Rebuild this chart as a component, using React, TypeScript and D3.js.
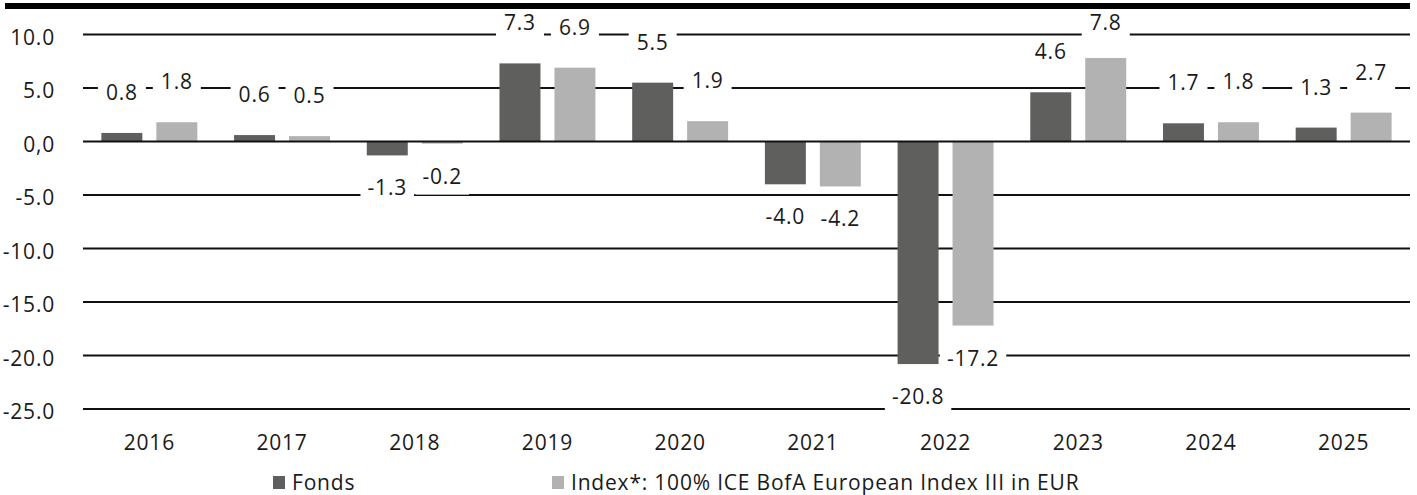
import * as d3 from "d3";

const YEARS = ["2016", "2017", "2018", "2019", "2020", "2021", "2022", "2023", "2024", "2025"];
const FONDS = [0.8, 0.6, -1.3, 7.3, 5.5, -4.0, -20.8, 4.6, 1.7, 1.3];
const INDEX = [1.8, 0.5, -0.2, 6.9, 1.9, -4.2, -17.2, 7.8, 1.8, 2.7];
const SERIES = ["Fonds", "Index*: 100% ICE BofA European Index III in EUR"];
const Y_TICKS = [10, 5, 0, -5, -10, -15, -20, -25];

const WIDTH = 1417;
const HEIGHT = 495;
const COLORS = ["#5f5f5e", "#b2b2b2"];
const FONT = "'Open Sans', sans-serif";
const FS = 21;
const LS = 0.8;

// rough glyph advances for Open Sans, used to size the white label boxes
function textWidth(s: string): number {
    let w = 0;
    for (const c of s) w += (c === "." ? 0.27 : c === "-" ? 0.32 : 0.572) * FS + LS;
    return w;
}

// hyphen minus like the original, not the unicode minus d3 emits
const fmt = (v: number) => d3.format(".1f")(v).replace("\u2212", "-");
const fmtTick = (v: number) => (v === 0 ? "0,0" : fmt(v));

export default function App() {
    const x = d3.scaleBand<string>().domain(YEARS).range([83, 1410]).paddingInner(0.277).paddingOuter(0.1385);
    const xs = d3.scaleBand<number>().domain([0, 1]).range([0, x.bandwidth()]).paddingInner(0.2545);
    const y = d3.scaleLinear().domain([-25, 10]).range([409, 34.5]);

    const bars = YEARS.flatMap((yr, i) =>
        [FONDS[i], INDEX[i]].map((v, s) => ({ yr, s, v, x0: (x(yr) ?? 0) + (xs(s) ?? 0) }))
    );

    return (
        <svg
            width={WIDTH}
            height={HEIGHT}
            style={{ position: "absolute", left: 0, top: 0 }}
            fontFamily={FONT}
            letterSpacing={LS}
        >
            <rect width={WIDTH} height={HEIGHT} fill="#fff" />

            {/* gridlines, zero drawn later on top of the bars */}
            {Y_TICKS.filter((t) => t !== 0).map((t) => (
                <line key={t} x1={83} x2={1410} y1={y(t)} y2={y(t)} stroke="#111" strokeWidth={2} />
            ))}
            {Y_TICKS.map((t) => (
                <text key={t} x={55} y={y(t) + 10} textAnchor="end" fontSize={FS} fill="#1a1a1a">
                    {fmtTick(t)}
                </text>
            ))}

            {bars.map((b) => (
                <rect
                    key={b.yr + b.s}
                    x={b.x0}
                    width={xs.bandwidth()}
                    y={Math.min(y(b.v), y(0))}
                    height={Math.abs(y(b.v) - y(0))}
                    fill={COLORS[b.s]}
                />
            ))}
            <line x1={83} x2={1410} y1={y(0)} y2={y(0)} stroke="#111" strokeWidth={2} />

            {bars.map((b) => {
                const label = fmt(b.v);
                const cx = b.x0 + xs.bandwidth() / 2;
                const cy = b.v >= 0 ? Math.max(y(b.v) - 40, 23) : y(b.v) + 33;
                const bw = Math.max(textWidth(label) + 14, 48);
                return (
                    <g key={"l" + b.yr + b.s}>
                        <rect x={cx - bw / 2} y={cy - 14} width={bw} height={32} fill="#fff" />
                        <text x={cx} y={cy + 7} textAnchor="middle" fontSize={FS} fill="#1a1a1a">
                            {label}
                        </text>
                    </g>
                );
            })}

            <rect x={5} y={3} width={1405} height={6} fill="#000" />

            {YEARS.map((yr) => (
                <text key={yr} x={(x(yr) ?? 0) + x.bandwidth() / 2} y={449.5} textAnchor="middle" fontSize={FS} fill="#1a1a1a">
                    {yr}
                </text>
            ))}

            {SERIES.map((name, s) => {
                const lx = s === 0 ? 273 : 552;
                return (
                    <g key={name}>
                        <rect x={lx} y={476} width={12} height={13} fill={COLORS[s]} />
                        <text x={lx + 19} y={489.5} fontSize={FS} fill="#1a1a1a">
                            {name}
                        </text>
                    </g>
                );
            })}
        </svg>
    );
}
